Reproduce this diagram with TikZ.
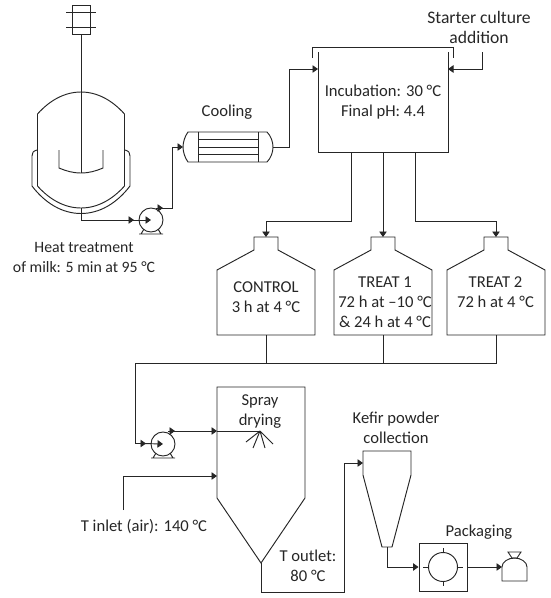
\documentclass[tikz,border=0pt]{standalone}
\usepackage{fontspec}
\setmainfont{Carlito}
\usetikzlibrary{arrows.meta}
\tikzset{
  ln/.style={line width=0.95pt,draw=black!85},
  tip/.style={-{Triangle[length=5.5pt,width=7.5pt]}},
  flow/.style={ln,tip},
  lbl/.style={font=\fontsize{16.6}{20}\selectfont,align=center,text=black!85,inner sep=0pt},
}
\begin{document}
\begin{tikzpicture}[x=1pt,y=-1pt]
\useasboundingbox (0,0) rectangle (550,598);
% reactor
\node[ln,draw,minimum width=18pt,minimum height=29pt,inner sep=0pt] (motor) at (81,19.5) {};
\draw[ln] (66,12.5)--(96,12.5) (66,27)--(96,27);
\coordinate (shafttop) at (81,34);
\coordinate (shaftend) at (81,173);
\draw[ln] (shafttop)--(shaftend);
\draw[ln] (37.5,186) -- (37.5,114) .. controls (50,100) and (65,92) .. (81,92) .. controls (97,92) and (112,100) .. (124.5,114) -- (124.5,186) .. controls (112,200) and (97,208) .. (81,208) .. controls (65,208) and (50,200) .. (37.5,186);
\draw[ln] (37,150) .. controls (33,151) and (32,153) .. (32,156) -- (32,186) .. controls (45,203) and (62,213.5) .. (81,213.5) .. controls (100,213.5) and (117,203) .. (130,186) -- (130,156) .. controls (130,153) and (129,151) .. (125,150);
\draw[ln] (59,150)--(59,168) .. controls (66,171) and (73,173) .. (81,173) .. controls (89,173) and (96,171) .. (103,168) -- (103,150);
% pump 1
\node[ln,draw,circle,minimum size=24pt,inner sep=0pt] (pumpa) at (151,220) {};
\coordinate (pumpaout) at (158,208);
\draw[ln] (141,234)--(144,229) (161,234)--(158,229) (139,234)--(163,234);
\coordinate (rout) at (81,208);
\draw[flow] (rout)--(81,220)--(134,220);
\draw[flow] (130,220)--(pumpa.center);
% cooler
\coordinate (coolin) at (183,147);
\coordinate (coolout) at (273,147);
\draw[ln] (198,132)--(188,132) .. controls (185,136) and (183,142) .. (coolin) .. controls (183,152) and (185,158) .. (188,162)--(198,162);
\draw[ln] (198,132)--(267,132) .. controls (271,136) and (273,142) .. (coolout) .. controls (273,152) and (271,158) .. (267,162)--(198,162);
\draw[ln] (198,132)--(198,162) (258,132)--(258,162);
\draw[ln] (198,139.5)--(258,139.5) (198,147)--(258,147) (198,154.5)--(258,154.5);
\draw[flow] (pumpaout)--(172,208)--(172,147)--(coolin);
\draw[ln,tip] (156,208)--(163,208);
% incubator
\draw[ln] (318,52)--(318,152)--(448,152)--(448,52);
\draw[ln] (312,58)--(312,47)--(453,47)--(453,58);
\coordinate (incl) at (318,69);
\coordinate (incr) at (448,69);
\draw[flow] (coolout)--(289,147)--(289,69)--(incl);
\draw[flow] (482,52)--(482,69)--(incr);
\node[lbl] (inc) at (383,102) {Incubation: 30 °C\\Final pH: 4.4};
\node[lbl,font=\fontsize{17.6}{20}\selectfont] (starter) at (479,27) {Starter culture\\addition};
\node[lbl] (cool) at (227,112) {Cooling};
\node[lbl,font=\fontsize{15.8}{20}\selectfont] (heat) at (84,257) {Heat treatment\\of milk: 5 min at 95 °C};
% tanks
\draw[ln] (217,335)--(217,270)--(254,250)--(254,237)--(278,237)--(278,250)--(315,270)--(315,335)--cycle;
\draw[ln] (334,335)--(334,270)--(371,250)--(371,237)--(395,237)--(395,250)--(432,270)--(432,335)--cycle;
\draw[ln] (447,335)--(447,270)--(484,250)--(484,237)--(508,237)--(508,250)--(545,270)--(545,335)--cycle;
\coordinate (ta) at (266,237); \coordinate (tb) at (383,237); \coordinate (tc) at (496,237);
\coordinate (ba) at (266,335); \coordinate (bb) at (383,335); \coordinate (bc) at (496,335);
\draw[flow] (351,152)--(351,221)--(266,221)--(ta);
\draw[flow] (383,152)--(tb);
\draw[flow] (415,152)--(415,221)--(496,221)--(tc);
\node[lbl] (c) at (266,297) {CONTROL\\3 h at 4 °C};
\node[lbl] (t1) at (385,302) {TREAT 1\\72 h at –10 °C\\\& 24 h at 4 °C};
\node[lbl] (t2) at (495.5,292) {TREAT 2\\72 h at 4 °C};
% collector
\draw[ln] (ba)--(266,363) (bb)--(383,363);
\draw[flow] (bc)--(496,363)--(135,363)--(135,443.5)--(146,443.5);
% pump 2
\node[ln,draw,circle,minimum size=24pt,inner sep=0pt] (pumpb) at (163,444) {};
\draw[flow] (143,443.5)--(pumpb.center);
\draw[ln] (153,458)--(156,453) (173,458)--(170,453) (151,458)--(175,458);
\draw[ln,tip] (168,431)--(175,431);
\draw[flow] (172,431)--(217,431);
\draw[ln] (217,431)--(260,431);
% nozzle
\coordinate (noz) at (260,431);
\draw[ln] (noz)--(246,442) (noz)--(253,448) (noz)--(265,448) (noz)--(273,444);
% dryer
\draw[ln] (217,387)--(305,387)--(305,498)--(261,563)--(217,498)--cycle;
\coordinate (dryout) at (261,563);
\draw[flow] (123,510)--(123,476)--(217,476);
\node[lbl] (spray) at (260,412) {Spray\\drying};
\node[lbl] (inlet) at (144,527) {T inlet (air): 140 °C};
\node[lbl] (outlet) at (308,566) {T outlet:\\80 °C};
% cyclone
\draw[ln] (363,451)--(411,451)--(411,475)--(392,547)--(382,547)--(363,475)--cycle;
\draw[flow] (dryout)--(261,592)--(344,592)--(344,463)--(363,463);
\node[lbl] (kefir) at (396,428) {Kefir powder\\collection};
% packager
\node[ln,draw,minimum width=48pt,minimum height=48pt,inner sep=0pt] (pk) at (443,567) {};
\node[ln,draw,circle,minimum size=29pt,inner sep=0pt] (pkc) at (443,567) {};
\draw[ln] (443,548)--(443,552) (443,582)--(443,586) (423,567)--(428,567) (458,567)--(463,567);
\draw[flow] (387,547)--(387,567)--(pk.west);
\coordinate (bag) at (502,567);
\draw[flow] (pk.east)--(bag);
\node[lbl] (pack) at (479,532) {Packaging};
\draw[ln] (502,581)--(502,567) .. controls (502,562) and (508,558) .. (514.5,558) .. controls (521,558) and (527,562) .. (527,567) -- (527,581)--cycle;
\draw[ln] (508,552)--(521,552)--(517,558)--(512,558)--cycle;
\end{tikzpicture}
\end{document}
